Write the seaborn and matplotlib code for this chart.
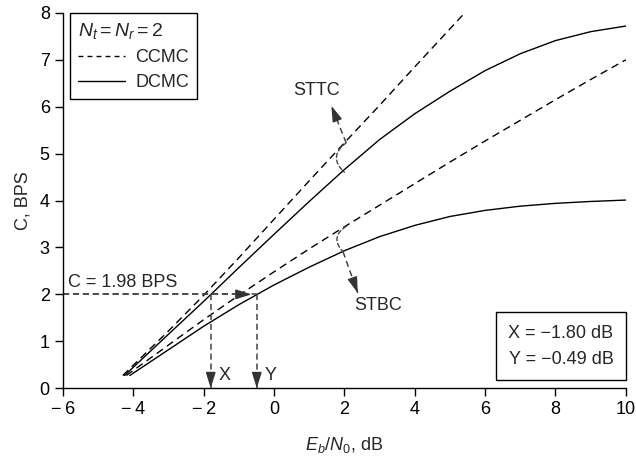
import matplotlib
matplotlib.use("Agg")
import numpy as np
import matplotlib.pyplot as plt
import seaborn as sns
from matplotlib.lines import Line2D

# STTC, CCMC (dashed)
sttc_ccmc_x = [-4.3, -3, -2, -1, 0, 1, 2, 3, 4, 5, 5.42]
sttc_ccmc_y = [0.27, 1.22, 1.98, 2.78, 3.6, 4.42, 5.23, 6.03, 6.85, 7.66, 8.0]
# STTC, DCMC (solid)
sttc_dcmc_x = [-4.25, -3, -2, -1, 0, 1, 2, 3, 4, 5, 6, 7, 8, 9, 10]
sttc_dcmc_y = [0.27, 1.15, 1.85, 2.57, 3.28, 3.98, 4.66, 5.3, 5.85, 6.33, 6.77, 7.13, 7.41, 7.6, 7.72]
# STBC, CCMC (dashed)
stbc_ccmc_x = [-4.2, -3, -2, -1, 0, 1, 2, 3, 4, 5, 6, 7, 8, 9, 10]
stbc_ccmc_y = [0.27, 0.92, 1.46, 1.98, 2.48, 2.97, 3.44, 3.9, 4.36, 4.82, 5.27, 5.71, 6.15, 6.58, 7.0]
# STBC, DCMC (solid)
stbc_dcmc_x = [-4.1, -3, -2, -1, 0, 1, 2, 3, 4, 5, 6, 7, 8, 9, 10]
stbc_dcmc_y = [0.27, 0.82, 1.32, 1.78, 2.2, 2.58, 2.93, 3.23, 3.47, 3.66, 3.79, 3.88, 3.94, 3.98, 4.01]

c_level = 2.0
x_val = -1.80
y_val = -0.49

sns.set_style("ticks")
plt.rcParams["font.family"] = ["Liberation Sans", "DejaVu Sans"]
plt.rcParams["mathtext.fontset"] = "custom"
plt.rcParams["mathtext.rm"] = "Liberation Sans"
plt.rcParams["mathtext.it"] = "Liberation Sans:italic"

fs = 13

fig = plt.figure(figsize=(6.36, 4.61), dpi=100)
ax = fig.add_axes([0.099, 0.158, 0.885, 0.814])
ax.set_xlim(-6, 10)
ax.set_ylim(0, 8)

dash = (5.5, 3.5)
sns.lineplot(x=sttc_ccmc_x, y=sttc_ccmc_y, color="black", lw=1, ax=ax).lines[-1].set_dashes(dash)
sns.lineplot(x=sttc_dcmc_x, y=sttc_dcmc_y, color="black", lw=1, ax=ax)
sns.lineplot(x=stbc_ccmc_x, y=stbc_ccmc_y, color="black", lw=1, ax=ax).lines[-1].set_dashes(dash)
sns.lineplot(x=stbc_dcmc_x, y=stbc_dcmc_y, color="black", lw=1, ax=ax)

gray = "#444444"
ann_ls = (0, (4, 2.5))


def dashed_arrow(start, tip):
    # dashed shaft + solid narrow head
    ax.plot([start[0], tip[0]], [start[1], tip[1]], color=gray, lw=1.1, ls=ann_ls)
    p0 = ax.transData.transform(start)
    p1 = ax.transData.transform(tip)
    d = (p1 - p0) / np.hypot(*(p1 - p0))
    back = -d * 9.0  # points (dpi 100 -> ~12.5 px)
    ax.annotate("", xy=tip, xytext=(back[0], back[1]), textcoords="offset points",
                arrowprops=dict(arrowstyle="-|>,head_length=0.8,head_width=0.25",
                                color="#333333", lw=1.0, mutation_scale=12,
                                shrinkA=0, shrinkB=0))


# C = 1.98 BPS horizontal arrow and X / Y drops
ax.plot([-6, y_val], [c_level, c_level], color=gray, lw=1.1, ls=ann_ls)
dashed_arrow((-6, c_level), (y_val - 0.15, c_level))
dashed_arrow((x_val, c_level), (x_val, 0.0))
dashed_arrow((y_val, c_level), (y_val, 0.0))
ax.text(-5.86, c_level + 0.08, "C = 1.98 BPS", fontsize=fs, ha="left", va="bottom")
ax.text(x_val + 0.22, 0.27, "X", fontsize=fs, ha="left", va="center")
ax.text(y_val + 0.22, 0.27, "Y", fontsize=fs, ha="left", va="center")

# STTC bracket + arrow
bprops = dict(arrowstyle="-", color=gray, lw=1.0, linestyle=(0, (3, 2)),
              connectionstyle="arc3,rad=0.6", shrinkA=0, shrinkB=0)
ax.annotate("", xy=(2.0, 4.6), xytext=(2.05, 5.23), arrowprops=bprops)
dashed_arrow((2.05, 5.23), (1.63, 6.02))
ax.text(1.2, 6.35, "STTC", fontsize=fs, ha="center", va="center")

# STBC bracket + arrow
ax.annotate("", xy=(1.96, 2.91), xytext=(2.05, 3.45), arrowprops=bprops)
dashed_arrow((1.96, 2.91), (2.38, 2.03))
ax.text(2.95, 1.77, "STBC", fontsize=fs, ha="center", va="center")

# Legend box
handles = [Line2D([], [], color="black", lw=1, dashes=(3.5, 3)),
           Line2D([], [], color="black", lw=1)]
leg = ax.legend(handles, ["CCMC", "DCMC"], title="$N_t = N_r = 2$", loc="upper left",
                bbox_to_anchor=(0.012, 1.0), borderaxespad=0, fontsize=fs,
                title_fontsize=14, handlelength=2.6, handletextpad=0.6,
                labelspacing=0.45, borderpad=0.45, fancybox=False,
                edgecolor="black", framealpha=1, alignment="left")
leg.get_frame().set_linewidth(1.0)

# Result box
ax.text(0.978, 0.055, "X = \u22121.80 dB\nY = \u22120.49 dB", transform=ax.transAxes,
        fontsize=fs, ha="right", va="bottom", linespacing=1.65,
        bbox=dict(boxstyle="square,pad=0.7", fc="white", ec="black", lw=1.0))

ax.set_xticks(range(-6, 11, 2))
ax.set_yticks(range(0, 9))
ax.set_xticklabels([str(v).replace("-", "\u2212\u2009") for v in range(-6, 11, 2)])
ax.tick_params(direction="out", length=6, width=1, labelsize=fs, colors="black")
for s in ["top", "right"]:
    ax.spines[s].set_visible(False)
for s in ["left", "bottom"]:
    ax.spines[s].set_color("black")
    ax.spines[s].set_linewidth(1.0)

ax.set_xlabel("$E_b/N_0$, dB", fontsize=fs, labelpad=12)
ax.set_ylabel("C, BPS", fontsize=fs, labelpad=6)

fig.savefig("out.png", dpi=100)
